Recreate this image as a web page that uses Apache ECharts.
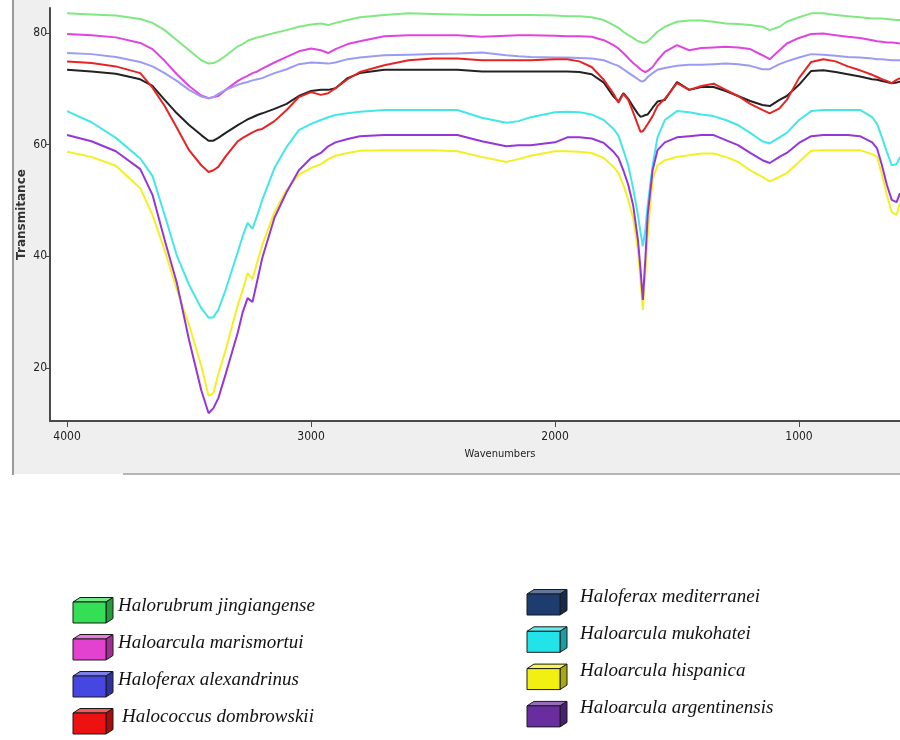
<!DOCTYPE html>
<html>
<head>
<meta charset="utf-8">
<script src="https://cdn.jsdelivr.net/npm/echarts@6.0.0/dist/echarts.min.js"></script>
<style>
html,body{margin:0;padding:0;background:#ffffff;}
#chart{width:900px;height:740px;}
</style>
</head>
<body>
<div id="chart"></div>
<script>
// ---------------- DATA ----------------
const wavenumbers = [4000,3900,3800,3700,3650,3600,3550,3500,3450,3420,
  3400,3380,3350,3300,3280,3260,3240,3220,3200,3150,
  3100,3050,3000,2960,2930,2900,2850,2800,2700,2600,
  2500,2400,2300,2200,2150,2100,2000,1950,1900,1850,
  1800,1760,1740,1720,1700,1680,1660,1650,1640,1630,
  1620,1600,1580,1550,1500,1450,1400,1350,1300,1250,
  1200,1150,1120,1080,1050,1000,950,900,850,800,
  750,700,680,660,640,620,600,586];

const jingiangense = [83.5,83.3,83.1,82.5,81.8,80.5,78.7,76.9,75.1,74.5,
  74.6,75.0,75.9,77.6,78.0,78.6,78.9,79.2,79.4,80.0,
  80.5,81.1,81.5,81.7,81.4,81.8,82.3,82.8,83.2,83.5,
  83.4,83.3,83.2,83.2,83.2,83.2,83.1,83.0,83.0,82.8,
  82.3,81.4,80.9,80.2,79.6,79.1,78.5,78.4,78.2,78.3,
  78.5,79.3,80.2,81.1,82.0,82.2,82.2,82.0,81.7,81.6,
  81.4,81.1,80.5,81.1,82.0,82.8,83.5,83.5,83.2,83.0,
  82.8,82.6,82.6,82.6,82.5,82.4,82.3,82.3];

const marismortui = [79.8,79.6,79.2,78.2,77.1,75.0,72.6,70.5,68.8,68.3,
  68.5,68.7,69.8,71.4,71.9,72.3,72.8,73.1,73.6,74.7,
  75.7,76.7,77.2,76.9,76.4,77.1,78.0,78.5,79.4,79.6,
  79.6,79.6,79.3,79.5,79.6,79.6,79.5,79.4,79.4,79.3,
  78.7,77.8,77.2,76.4,75.5,74.6,73.9,73.5,73.2,73.0,
  73.2,73.9,75.1,76.6,77.8,76.9,77.3,77.4,77.5,77.4,
  77.1,76.0,75.3,76.9,78.1,79.1,79.8,79.9,79.6,79.3,
  79.1,78.7,78.5,78.4,78.3,78.3,78.2,78.1];

const alexandrinus = [76.4,76.2,75.7,74.8,74.0,72.8,71.4,69.8,68.6,68.3,
  68.5,69.1,69.8,70.7,71.0,71.2,71.5,71.7,71.9,72.8,
  73.5,74.4,74.7,74.6,74.5,74.7,75.3,75.6,76.0,76.1,
  76.2,76.3,76.5,76.0,75.8,75.7,75.6,75.6,75.5,75.4,
  75.1,74.4,74.1,73.5,72.9,72.3,71.7,71.4,71.3,71.6,
  72.1,72.8,73.4,73.7,74.1,74.3,74.3,74.4,74.5,74.4,
  74.1,73.5,73.5,74.4,74.9,75.6,76.2,76.1,75.9,75.7,
  75.6,75.4,75.3,75.3,75.2,75.1,75.1,75.1];

const dombrowskii = [74.9,74.6,74.0,72.8,70.2,66.9,63.0,59.0,56.3,55.1,
  55.4,56.0,57.9,60.6,61.2,61.7,62.2,62.6,62.8,64.2,
  66.2,68.5,69.4,68.9,69.2,70.1,71.7,73.0,74.2,75.1,
  75.4,75.4,75.1,75.1,75.1,75.1,75.3,75.3,74.9,73.9,
  71.6,69.1,67.5,69.1,68.0,65.8,63.5,62.3,62.4,63.0,
  63.7,65.1,66.9,68.2,71.0,69.8,70.5,70.9,69.8,68.7,
  67.3,66.2,65.6,66.5,68.0,71.9,74.8,75.3,74.9,74.0,
  73.3,72.5,72.1,71.7,71.4,71.0,71.6,71.9];

const mediterranei = [73.4,73.1,72.7,71.7,70.5,68.0,65.6,63.5,61.7,60.7,
  60.7,61.2,62.1,63.5,64.0,64.5,64.9,65.3,65.6,66.4,
  67.3,68.7,69.6,69.8,69.8,70.1,71.9,72.8,73.4,73.4,
  73.4,73.4,73.1,73.1,73.1,73.1,73.1,73.1,73.0,72.6,
  71.1,68.6,67.7,69.2,68.2,66.8,65.5,65.0,65.1,65.3,
  65.4,66.6,67.7,68.0,71.2,69.8,70.3,70.3,69.6,68.7,
  67.8,67.1,66.9,68.0,68.7,70.7,73.2,73.3,73.0,72.6,
  72.2,71.7,71.6,71.4,71.2,71.0,71.1,71.3];

const mukohatei = [66.0,64.0,61.2,57.5,54.4,47.4,40.1,34.9,30.7,29.0,
  29.1,30.4,34.0,40.8,43.6,46.0,44.9,47.4,50.1,55.8,
  59.6,62.6,63.7,64.4,64.9,65.3,65.6,65.9,66.2,66.2,
  66.2,66.2,64.8,63.9,64.2,64.9,65.8,65.9,65.8,65.4,
  64.4,62.8,61.6,59.0,56.3,52.2,47.4,44.4,41.8,44.7,
  49.2,56.3,61.3,64.4,66.0,65.8,65.4,65.1,64.4,63.5,
  62.1,60.6,60.2,61.3,62.1,64.4,66.0,66.2,66.2,66.2,
  66.2,64.9,63.7,61.3,58.7,56.3,56.5,57.8];

const hispanica = [58.7,57.8,56.2,52.2,47.4,41.1,34.0,27.7,20.4,15.0,
  15.5,18.9,23.2,31.3,34.0,37.0,35.9,39.0,42.0,47.9,
  51.9,54.6,55.8,56.5,57.4,58.0,58.5,58.9,59.0,59.0,
  59.0,58.8,57.8,56.9,57.4,58.0,58.8,58.8,58.7,58.5,
  57.6,56.0,54.9,52.8,50.1,46.9,41.1,35.7,30.4,36.6,
  43.8,53.7,56.3,57.2,57.8,58.1,58.4,58.4,57.8,56.9,
  55.4,54.2,53.4,54.2,54.9,56.9,58.9,59.0,59.0,59.0,
  59.0,58.3,57.8,54.6,51.0,47.9,47.4,49.5];

const argentinensis = [61.7,60.6,58.8,55.6,51.0,42.9,35.2,25.0,16.0,11.9,
  12.8,14.6,18.9,26.4,30.0,32.5,31.8,35.7,39.7,46.9,
  51.5,55.4,57.6,58.5,59.7,60.4,61.0,61.5,61.7,61.7,
  61.7,61.7,60.6,59.7,59.9,59.9,60.4,61.3,61.3,61.1,
  60.3,58.7,57.6,55.4,52.8,49.2,42.9,37.9,32.2,39.3,
  47.4,55.4,59.0,60.4,61.3,61.5,61.7,61.7,60.8,59.9,
  58.5,57.2,56.7,57.8,58.5,60.3,61.5,61.7,61.7,61.7,
  61.5,60.4,59.3,56.3,52.8,50.1,49.7,51.3];

const legendLeftNames = ['Halorubrum jingiangense','Haloarcula marismortui','Haloferax alexandrinus','Halococcus dombrowskii'];
const legendRightNames = ['Haloferax mediterranei','Haloarcula mukohatei','Haloarcula hispanica','Haloarcula argentinensis'];

const xTickValues = [1000, 2000, 3000, 4000];
const yTickValues = [20, 40, 60, 80];

// ---------------- STYLES ----------------
const seriesDefs = [
  {name: 'Halorubrum jingiangense', values: jingiangense, line: '#80e882', cube: '#34df55'},
  {name: 'Haloarcula marismortui', values: marismortui, line: '#e044e0', cube: '#e242cf'},
  {name: 'Haloferax alexandrinus', values: alexandrinus, line: '#9a9cf2', cube: '#4646e2'},
  {name: 'Haloferax mediterranei', values: mediterranei, line: '#222222', cube: '#1f3c70'},
  {name: 'Halococcus dombrowskii', values: dombrowskii, line: '#e52424', cube: '#ee1111'},
  {name: 'Haloarcula mukohatei', values: mukohatei, line: '#44e6e6', cube: '#22e2ea'},
  {name: 'Haloarcula hispanica', values: hispanica, line: '#f2f022', cube: '#f2f012'},
  {name: 'Haloarcula argentinensis', values: argentinensis, line: '#9436d8', cube: '#6a2da0'}
];
const cubeColorOf = {};
seriesDefs.forEach(s => cubeColorOf[s.name] = s.cube);

function shade(hex, f) {
  const n = parseInt(hex.slice(1), 16);
  let r = (n >> 16) & 255, g = (n >> 8) & 255, b = n & 255;
  if (f > 0) { r = r + (255 - r) * f; g = g + (255 - g) * f; b = b + (255 - b) * f; }
  else { r = r * (1 + f); g = g * (1 + f); b = b * (1 + f); }
  return 'rgb(' + Math.round(r) + ',' + Math.round(g) + ',' + Math.round(b) + ')';
}

function cube(x, y, color) {
  const w = 33, h = 21, dx = 7, dy = 4.5;
  const stroke = {stroke: '#1a1a1a', lineWidth: 1};
  return [
    {type: 'polygon', shape: {points: [[x, y], [x + dx, y - dy], [x + w + dx, y - dy], [x + w, y]]},
      style: Object.assign({fill: shade(color, 0.3)}, stroke), z: 10},
    {type: 'polygon', shape: {points: [[x + w, y], [x + w + dx, y - dy], [x + w + dx, y + h - dy], [x + w, y + h]]},
      style: Object.assign({fill: shade(color, -0.3)}, stroke), z: 10},
    {type: 'rect', shape: {x: x, y: y, width: w, height: h},
      style: Object.assign({fill: color}, stroke), z: 10}
  ];
}

const legendFont = "italic 19px 'Liberation Serif', 'DejaVu Serif', serif";
const graphics = [
  {type: 'rect', shape: {x: 13, y: 0, width: 887, height: 474}, style: {fill: '#efefef'}, z: -10, silent: true},
  {type: 'line', shape: {x1: 13, y1: 0, x2: 13, y2: 475}, style: {stroke: '#9a9a9a', lineWidth: 2}, z: -9},
  {type: 'line', shape: {x1: 123, y1: 474, x2: 900, y2: 474}, style: {stroke: '#b5b5b5', lineWidth: 2}, z: -9},
  {type: 'rect', shape: {x: 50, y: 0, width: 850, height: 421}, style: {fill: '#ffffff'}, z: -8, silent: true}
];
legendLeftNames.forEach((name, i) => {
  const top = 602 + i * 37;
  cube(73, top, cubeColorOf[name]).forEach(g => graphics.push(g));
  graphics.push({type: 'text', x: (i === 3 ? 122 : 118), y: top + 4,
    style: {text: name, font: legendFont, fill: '#111', textVerticalAlign: 'middle'}, z: 10});
});
legendRightNames.forEach((name, i) => {
  const top = 594 + i * 37.3;
  cube(527, top, cubeColorOf[name]).forEach(g => graphics.push(g));
  graphics.push({type: 'text', x: 580, y: top + 2.5,
    style: {text: name, font: legendFont, fill: '#111', textVerticalAlign: 'middle'}, z: 10});
});

const axisFont = "'Liberation Sans Narrow', 'DejaVu Sans Condensed', 'Arial Narrow', sans-serif";

const chart = echarts.init(document.getElementById('chart'), null, {renderer: 'canvas'});
chart.setOption({
  animation: false,
  backgroundColor: '#ffffff',
  graphic: graphics,
  grid: {left: 50, right: 0, top: 8, bottom: 319, containLabel: false},
  xAxis: {
    type: 'value', inverse: true, min: 586, max: 4070,
    name: 'Wavenumbers', nameLocation: 'middle', nameGap: 28,
    nameTextStyle: {fontFamily: axisFont, fontSize: 11, color: '#222', padding: [0, 0, 0, 50]},
    axisLine: {show: true, lineStyle: {color: '#4a4a4a', width: 2}},
    axisTick: {show: true, length: 6, lineStyle: {color: '#4a4a4a', width: 1}, customValues: xTickValues},
    axisLabel: {fontFamily: axisFont, fontSize: 12, color: '#222', margin: 10, customValues: xTickValues,
      formatter: v => String(v)},
    splitLine: {show: false}
  },
  yAxis: {
    type: 'value', min: 10.5, max: 84.46,
    name: 'Transmitance', nameLocation: 'middle', nameGap: 22, nameRotate: 90,
    nameMoveOverlap: false,
    nameTextStyle: {fontFamily: "'DejaVu Sans', sans-serif", fontSize: 12, fontWeight: 'bold', color: '#333'},
    axisLine: {show: true, lineStyle: {color: '#4a4a4a', width: 2}},
    axisTick: {show: true, length: 4, lineStyle: {color: '#4a4a4a', width: 1}, customValues: yTickValues},
    axisLabel: {fontFamily: axisFont, fontSize: 12, color: '#222', margin: 3, customValues: yTickValues,
      formatter: v => String(v)},
    splitLine: {show: false}
  },
  series: seriesDefs.map(s => ({
    name: s.name,
    type: 'line',
    showSymbol: false,
    symbol: 'none',
    smooth: false,
    clip: true,
    lineStyle: {color: s.line, width: 2},
    itemStyle: {color: s.line},
    data: wavenumbers.map((w, i) => [w, s.values[i]])
  }))
});
</script>
</body>
</html>
